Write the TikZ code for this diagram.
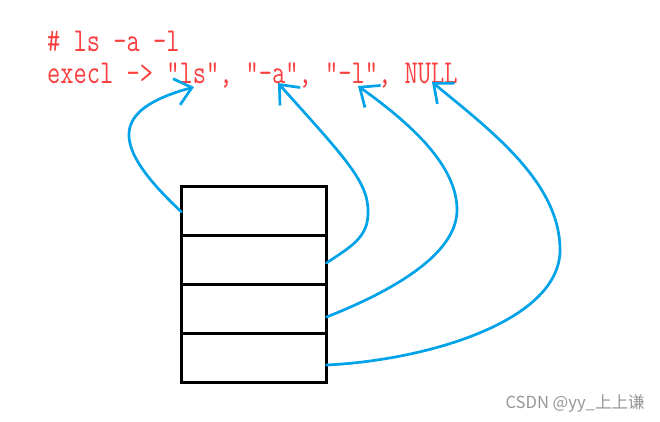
\documentclass[tikz,border=0pt]{standalone}
\usepackage{fontspec}
\usepackage{graphicx}
\usetikzlibrary{arrows.meta,calc}
\newfontfamily\cjk{Noto Sans CJK SC}
\definecolor{txtred}{RGB}{250,62,62}
\definecolor{arrblue}{RGB}{0,162,232}
\definecolor{wmgrey}{RGB}{150,150,150}
\tikzset{
  codetext/.style={anchor=base west, inner sep=0pt, text=txtred, font=\ttfamily\fontsize{25.7}{25}\selectfont},
  cell/.style={draw=black, line width=3pt, minimum width=145pt, minimum height=49pt, inner sep=0pt, outer sep=0pt, anchor=north west},
  ptr/.style={draw=arrblue, line width=2.7pt, line cap=round, -{Straight Barb[length=16pt,width=27pt]}},
}
\begin{document}
\begin{tikzpicture}[x=1pt,y=-1pt]
\useasboundingbox (0,0) rectangle (660,421);
% code text
\node[codetext] (cmd) at (47,51) {\scalebox{1}[1.3]{\# ls -a -l}};
\node[codetext] (call) at (47,83) {\scalebox{1}[1.3]{execl -> "ls", "-a", "-l", NULL}};
% targets
\coordinate (t1) at (194,87);
\coordinate (t2) at (278,83);
\coordinate (t3) at (358,86);
\coordinate (t4) at (432,82);
% argv cells
\node[cell] (c1) at (181.5,186.5) {};
\node[cell] (c2) at (181.5,235.5) {};
\node[cell] (c3) at (181.5,284.5) {};
\node[cell] (c4) at (181.5,333.5) {};
% bends
\coordinate (b2) at (368,213);
\coordinate (b3) at (457,210);
\coordinate (b4) at (560,250);
% pointers
\draw[ptr] ([yshift=-1pt]c1.west) .. controls (110,145) and (110,110) .. (t1);
\draw[ptr] ([yshift=-3pt]c2.east) .. controls (350,247) and (368,238) .. (b2)
  .. controls (369,182) and (345,158) .. (t2);
\draw[ptr] ([yshift=-8pt]c3.east) .. controls (390,292) and (457,255) .. (b3)
  .. controls (457,170) and (420,130) .. (t3);
\draw[ptr] ([yshift=-7pt]c4.east) .. controls (430,360) and (560,320) .. (b4)
  .. controls (560,182) and (490,130) .. (t4);
% watermark
\node[anchor=base east, inner sep=0pt, text=wmgrey, font=\cjk\fontsize{16.6}{16}\selectfont] (wm) at (645,408) {CSDN @yy\_上上谦};
\end{tikzpicture}
\end{document}
